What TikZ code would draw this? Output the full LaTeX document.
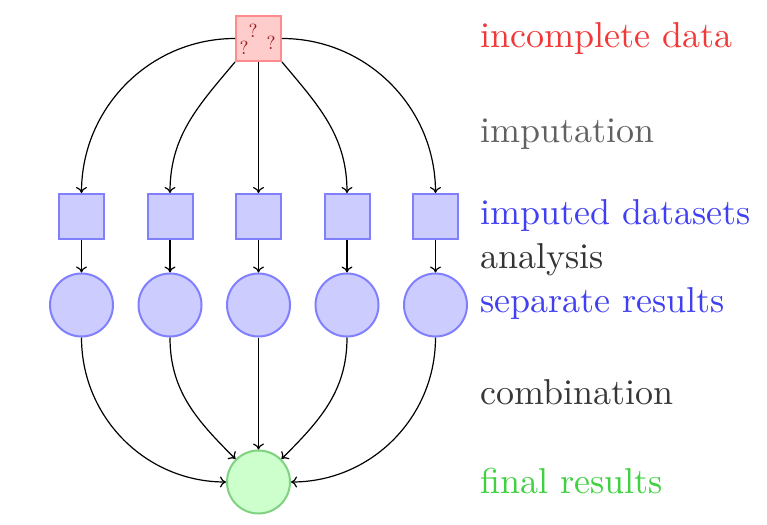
\documentclass[tikz,border=0pt]{standalone}
\usepackage{graphicx}
\usetikzlibrary{arrows.meta}
\definecolor{txtred}{rgb}{0.95,0.22,0.22}
\definecolor{txtblue}{rgb}{0.25,0.25,0.95}
\definecolor{txtgreen}{rgb}{0.25,0.82,0.25}
\definecolor{qred}{rgb}{0.6,0.1,0.1}
\definecolor{gborder}{rgb}{0.5,0.82,0.5}
\begin{document}
\begin{tikzpicture}[x=1pt,y=1pt,
  conn/.style={line width=1.2pt,-{Computer Modern Rightarrow[length=6pt,width=11pt]}},
  incbox/.style={draw=red!45,fill=red!20,line width=2pt,minimum size=45pt,inner sep=0pt},
  impbox/.style={draw=blue!50,fill=blue!20,line width=2pt,minimum size=45pt,inner sep=0pt},
  rescirc/.style={circle,draw=blue!50,fill=blue!20,line width=2pt,minimum size=63pt,inner sep=0pt},
  fincirc/.style={circle,draw=gborder,fill=green!20,line width=2pt,minimum size=63pt,inner sep=0pt},
  lab/.style={anchor=base west,inner sep=0pt},
  qm/.style={text=qred,inner sep=0pt}]
\useasboundingbox (0,0) rectangle (767,-524);
% top box
\node[incbox] (top) at (258.5,-38.5) {};
\node[qm] (q1) at (253,-31) {\scalebox{1.9}{?}};
\node[qm] (q2) at (244,-48) {\scalebox{1.9}{?}};
\node[qm] (q3) at (271,-43) {\scalebox{1.9}{?}};
% imputed datasets
\foreach \i/\x in {1/81.5,2/170,3/258.5,4/347,5/435.5}{
  \node[impbox] (b\i) at (\x,-216.5) {};
  \node[rescirc] (c\i) at (\x,-305) {};
}
\node[fincirc] (f) at (258.5,-482) {};
% connectors top -> boxes
\draw[conn] (top.west) to[out=180,in=90] (b1.north);
\draw[conn] (top.south west) to[out=230,in=90] (b2.north);
\draw[conn] (top.south) -- (b3.north);
\draw[conn] (top.south east) to[out=-50,in=90] (b4.north);
\draw[conn] (top.east) to[out=0,in=90] (b5.north);
% boxes -> circles
\foreach \i in {1,...,5}{
  \draw[conn] (b\i.south) -- (c\i.north);
}
% circles -> final
\draw[conn] (c1.south) to[out=270,in=180] (f.west);
\draw[conn] (c2.south) to[out=270,in=135] (f.north west);
\draw[conn] (c3.south) -- (f.north);
\draw[conn] (c4.south) to[out=270,in=45] (f.north east);
\draw[conn] (c5.south) to[out=270,in=0] (f.east);
% labels
\node[lab,text=txtred] (l1) at (480,-48) {\scalebox{3.6}{incomplete data}};
\node[lab,text=black!62] (l2) at (480,-142) {\scalebox{3.6}{imputation}};
\node[lab,text=txtblue] (l3) at (480,-224) {\scalebox{3.6}{imputed datasets}};
\node[lab,text=black!80] (l4) at (480,-268) {\scalebox{3.6}{analysis}};
\node[lab,text=txtblue] (l5) at (480,-312) {\scalebox{3.6}{separate results}};
\node[lab,text=black!78] (l6) at (480,-404) {\scalebox{3.6}{combination}};
\node[lab,text=txtgreen] (l7) at (480,-493) {\scalebox{3.6}{final results}};
\end{tikzpicture}
\end{document}
